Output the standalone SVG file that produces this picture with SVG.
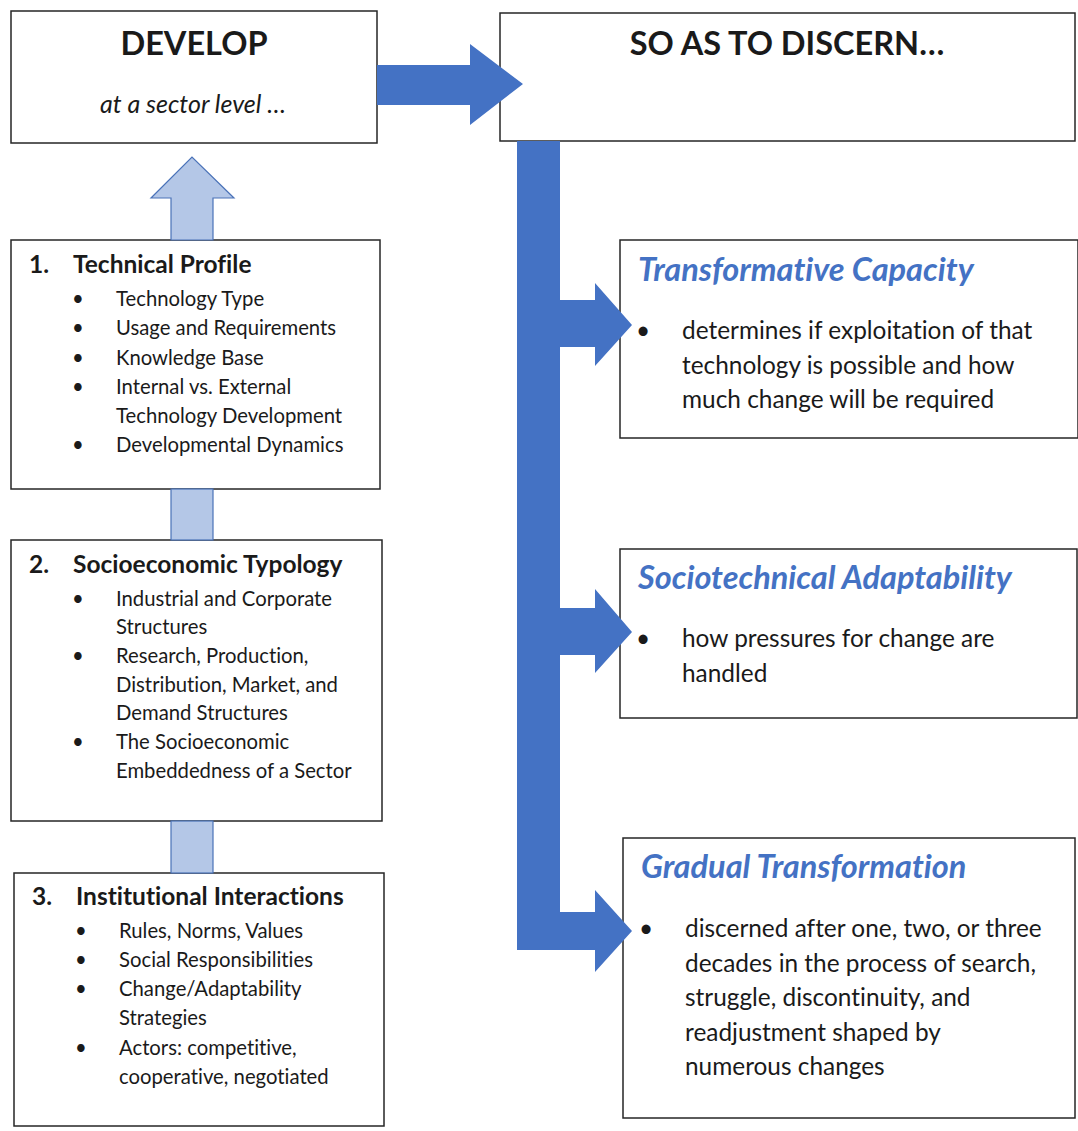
<svg xmlns="http://www.w3.org/2000/svg" width="1078" height="1131" viewBox="0 0 1078 1131">
  <style>
    .box { fill: #ffffff; stroke: #262626; stroke-width: 1.5; }
    .t { font-family: Lato, "Liberation Sans", sans-serif; fill: #1a1a1a; font-variant-ligatures: none; }
    .head { font-size: 32.5px; font-weight: bold; text-anchor: middle; }
    .sub { font-size: 25px; font-style: italic; text-anchor: middle; }
    .h2 { font-size: 24.5px; font-weight: bold; }
    .li { font-size: 20.3px; }
    .ttl { font-size: 32.5px; font-weight: bold; font-style: italic; fill: #4472C4; }
    .body { font-size: 24.4px; }
    .dark { fill: #4472C4; }
    .light { fill: #B4C7E7; stroke: #4A72B8; stroke-width: 1.2; }
  </style>

  <g id="develop">
    <rect class="box" x="11" y="11" width="366" height="132"/>
    <text class="t head" x="194" y="55">DEVELOP</text>
    <text class="t sub" x="193" y="113">at a sector level …</text>
  </g>

  <g id="discern">
    <rect class="box" x="500" y="13" width="575" height="128"/>
    <text class="t head" x="787" y="55">SO AS TO DISCERN…</text>
  </g>

  <g id="technical-profile">
    <rect class="box" x="11" y="240" width="369" height="249"/>
    <text class="t h2" x="29" y="273">1.</text>
    <text class="t h2" x="73" y="273">Technical Profile</text>
    <g class="t li">
      <text x="72" y="306">•</text><text x="116" y="306">Technology Type</text>
      <text x="72" y="335">•</text><text x="116" y="335">Usage and Requirements</text>
      <text x="72" y="365">•</text><text x="116" y="365">Knowledge Base</text>
      <text x="72" y="394">•</text><text x="116" y="394">Internal vs. External</text>
      <text x="116" y="423">Technology Development</text>
      <text x="72" y="452">•</text><text x="116" y="452">Developmental Dynamics</text>
    </g>
  </g>

  <g id="socioeconomic-typology">
    <rect class="box" x="11" y="540" width="371" height="281"/>
    <text class="t h2" x="29" y="573">2.</text>
    <text class="t h2" x="73" y="573">Socioeconomic Typology</text>
    <g class="t li">
      <text x="72" y="606">•</text><text x="116" y="606">Industrial and Corporate</text>
      <text x="116" y="634">Structures</text>
      <text x="72" y="663">•</text><text x="116" y="663">Research, Production,</text>
      <text x="116" y="692">Distribution, Market, and</text>
      <text x="116" y="720">Demand Structures</text>
      <text x="72" y="749">•</text><text x="116" y="749">The Socioeconomic</text>
      <text x="116" y="778">Embeddedness of a Sector</text>
    </g>
  </g>

  <g id="institutional-interactions">
    <rect class="box" x="14" y="873" width="370" height="253"/>
    <text class="t h2" x="32" y="905">3.</text>
    <text class="t h2" x="76" y="905">Institutional Interactions</text>
    <g class="t li">
      <text x="75" y="938">•</text><text x="119" y="938">Rules, Norms, Values</text>
      <text x="75" y="967">•</text><text x="119" y="967">Social Responsibilities</text>
      <text x="75" y="996">•</text><text x="119" y="996">Change/Adaptability</text>
      <text x="119" y="1025">Strategies</text>
      <text x="75" y="1055">•</text><text x="119" y="1055">Actors: competitive,</text>
      <text x="119" y="1084">cooperative, negotiated</text>
    </g>
  </g>

  <g id="transformative-capacity">
    <rect class="box" x="620" y="240" width="458" height="198"/>
    <text class="t ttl" x="638" y="281">Transformative Capacity</text>
    <g class="t body">
      <text x="636" y="339">•</text>
      <text x="682" y="339">determines if exploitation of that</text>
      <text x="682" y="374">technology is possible and how</text>
      <text x="682" y="408">much change will be required</text>
    </g>
  </g>

  <g id="sociotechnical-adaptability">
    <rect class="box" x="620" y="549" width="457" height="169"/>
    <text class="t ttl" x="638" y="589">Sociotechnical Adaptability</text>
    <g class="t body">
      <text x="636" y="647">•</text>
      <text x="682" y="647">how pressures for change are</text>
      <text x="682" y="682">handled</text>
    </g>
  </g>

  <g id="gradual-transformation">
    <rect class="box" x="623" y="838" width="452" height="280"/>
    <text class="t ttl" x="641" y="878">Gradual Transformation</text>
    <g class="t body">
      <text x="639" y="937">•</text>
      <text x="685" y="937">discerned after one, two, or three</text>
      <text x="685" y="972">decades in the process of search,</text>
      <text x="685" y="1006">struggle, discontinuity, and</text>
      <text x="685" y="1041">readjustment shaped by</text>
      <text x="685" y="1075">numerous changes</text>
    </g>
  </g>

  <!-- connectors, drawn last so the arrowheads sit over the box edges -->
  <g id="connectors">
    <!-- light up-arrows between the left boxes -->
    <rect class="light" x="171" y="821" width="42" height="52"/>
    <rect class="light" x="171" y="489" width="42" height="51"/>
    <path class="light" d="M171,240 V198 H151 L192,157 L234,198 H213 V240 Z"/>
    <!-- develop to discern -->
    <path class="dark" d="M377,65 H470 V44 L523,84 L470,125 V105 H377 Z"/>
    <!-- trunk with three branches -->
    <path class="dark" d="M517,141 H560 V300 H595 V283 L632,325 L595,366 V347 H560 V608 H595 V589 L632,632 L595,673 V655 H560 V912 H595 V890 L632,931 L595,972 V950 H517 Z"/>
  </g>
</svg>
